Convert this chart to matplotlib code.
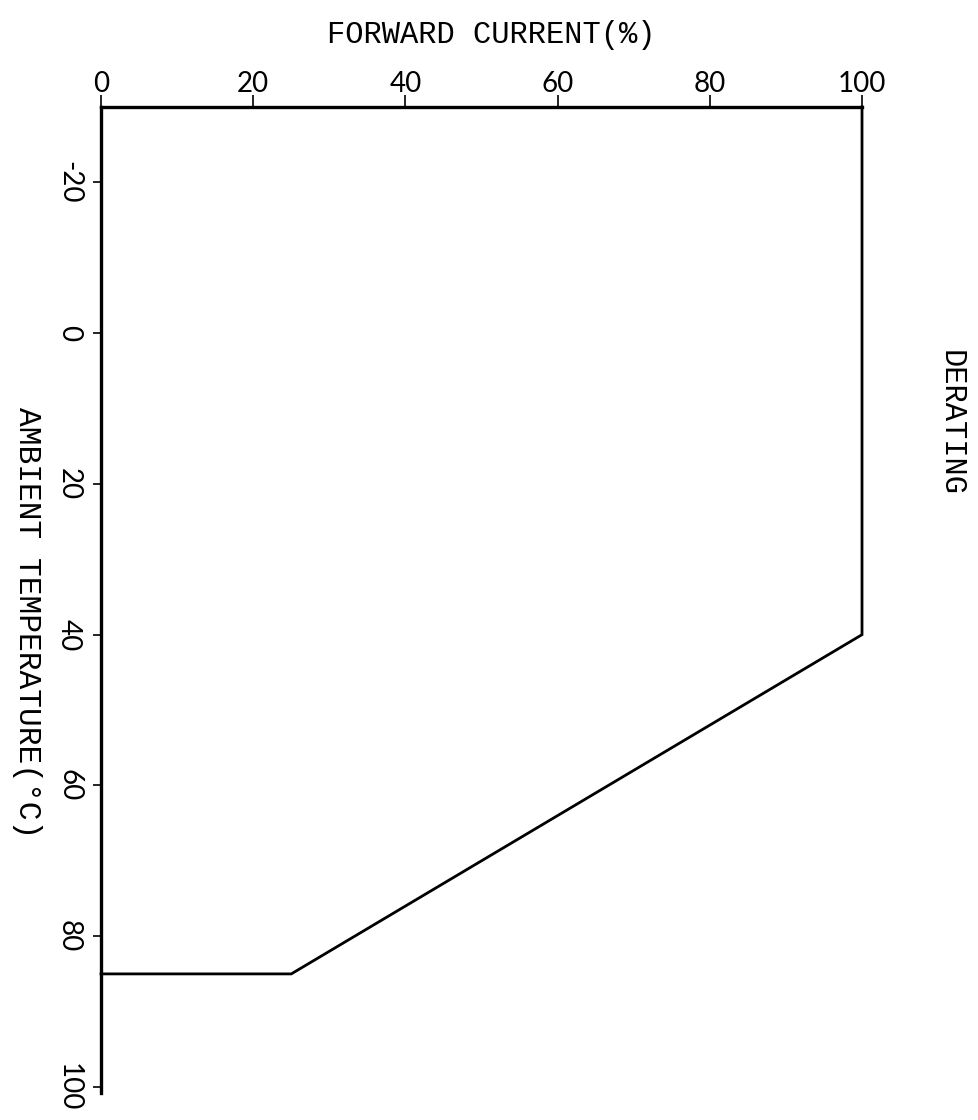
import matplotlib
matplotlib.use("Agg")
import matplotlib.pyplot as plt

# derating curve
temperature = [-30, 40, 85, 85]      # ambient temperature, deg C
forward_current = [100, 100, 25, 0]  # forward current, %

x_ticks = [0, 20, 40, 60, 80, 100]
y_ticks = [-20, 0, 20, 40, 60, 80, 100]

mono = "Liberation Mono"
tick_font = {"family": "Lato", "weight": "normal", "size": 20, "color": "black"}

fig = plt.figure(figsize=(9.79, 11.2), dpi=100)
ax = fig.add_axes([0.1032, 0.0241, 0.7773, 0.8804])

ax.plot(forward_current, temperature, color="black", lw=2.0,
        solid_joinstyle="miter", clip_on=False)

ax.set_xlim(0, 100)
ax.set_ylim(100.8, -30)

ax.spines["right"].set_visible(False)
ax.spines["bottom"].set_visible(False)
ax.spines["top"].set_linewidth(2.4)
ax.spines["left"].set_linewidth(2.4)

ax.xaxis.tick_top()
ax.set_xticks(x_ticks)
ax.set_yticks(y_ticks)
ax.tick_params(axis="x", direction="out", length=9, width=1.2, pad=-2)
ax.tick_params(axis="y", direction="out", length=6, width=1.2, pad=17)

ax.set_xticklabels([str(v) for v in x_ticks], fontdict=tick_font)
ax.set_yticklabels([str(v) for v in y_ticks], fontdict=tick_font,
                   rotation=-90, va="center", ha="center")

fig.text(0.5015, 0.969, "FORWARD CURRENT(%)", family=mono, size=22,
         ha="center", va="center")
fig.text(0.0276, 0.444, "AMBIENT TEMPERATURE(\u00b0C)", family=mono, size=22.5,
         rotation=-90, ha="center", va="center")
fig.text(0.971, 0.622, "DERATING", family=mono, size=22,
         rotation=-90, ha="center", va="center")

fig.savefig("out.png", dpi=100)
